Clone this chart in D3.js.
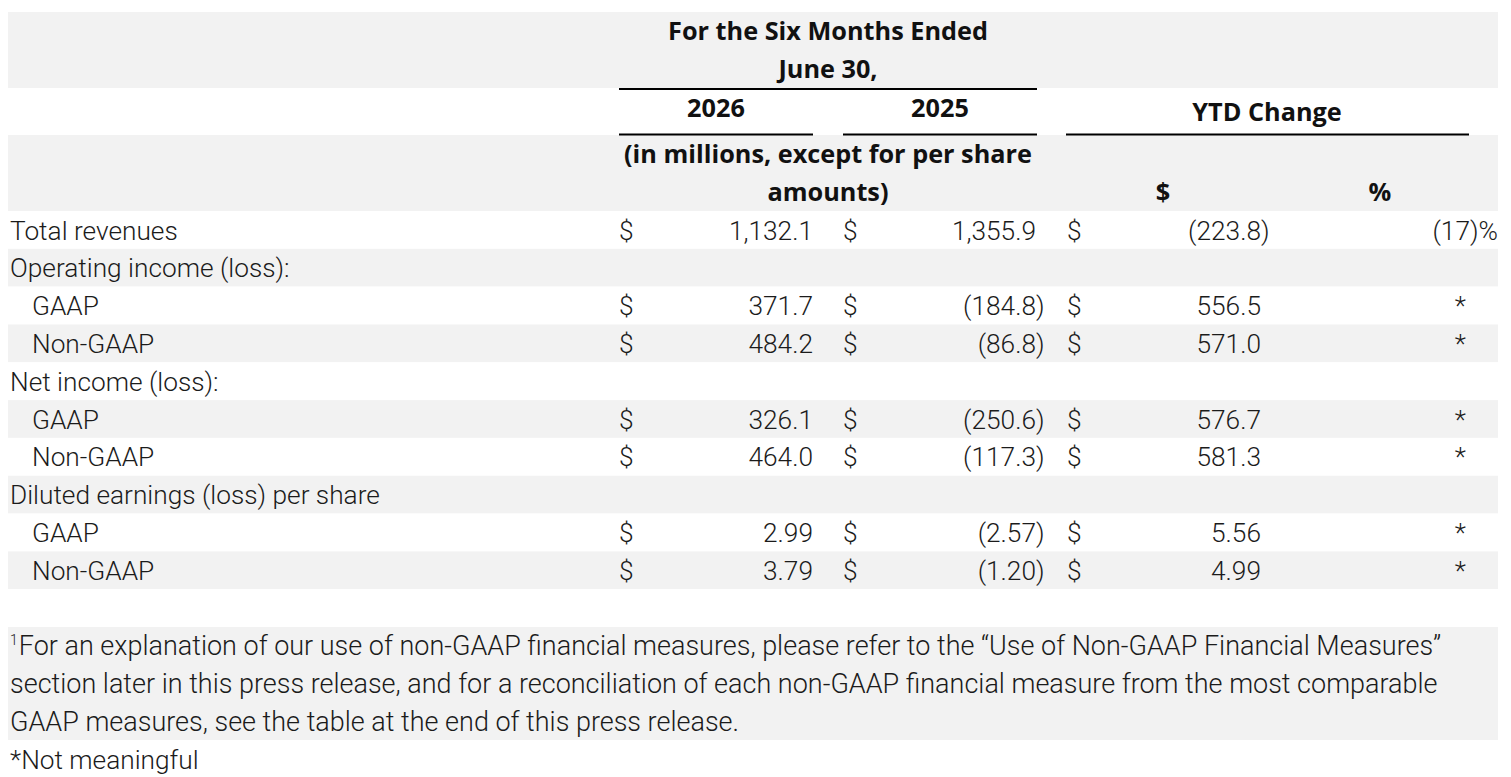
<!DOCTYPE html>
<html>
<head>
<meta charset="utf-8">
<script src="https://cdn.jsdelivr.net/npm/d3@7"></script>
<style>
  body { margin: 0; background: #fff; }
  svg { display: block; }
</style>
</head>
<body>
<svg id="chart"></svg>
<script>
var width = 1511, height = 777;

// table content
var rowLabels = ["Total revenues", "Operating income (loss):", "GAAP", "Non-GAAP",
  "Net income (loss):", "GAAP", "Non-GAAP", "Diluted earnings (loss) per share",
  "GAAP", "Non-GAAP", ""];
var rowIndent = [0, 0, 1, 1, 0, 1, 1, 0, 1, 1, 0];
var rowDecimals = [1, 1, 1, 1, 1, 1, 1, 2, 2, 2, 1];
var values2026 = [1132.1, null, 371.7, 484.2, null, 326.1, 464.0, null, 2.99, 3.79, null];
var values2025 = [1355.9, null, -184.8, -86.8, null, -250.6, -117.3, null, -2.57, -1.20, null];
var ytdDollar = [-223.8, null, 556.5, 571.0, null, 576.7, 581.3, null, 5.56, 4.99, null];
var ytdPercent = [-17, null, "*", "*", null, "*", "*", null, "*", "*", null];
var yearLabels = ["2026", "2025"];
var footnoteLines = [
  "For an explanation of our use of non-GAAP financial measures, please refer to the \u201cUse of Non-GAAP Financial Measures\u201d",
  "section later in this press release, and for a reconciliation of each non-GAAP financial measure from the most comparable",
  "GAAP measures, see the table at the end of this press release."
];

var bodyFont = "Roboto, 'Liberation Sans', sans-serif";
var headFont = "'Open Sans', Inter, sans-serif";
var ink = "#1b1b1b";
var grey = "#f2f2f2";

var svg = d3.select("#chart").attr("width", width).attr("height", height);

// pick a font size so a sample string fills the width seen in the picture
function fitSize(family, weight, sample, target) {
  var t = svg.append("text")
    .attr("font-family", family).attr("font-weight", weight)
    .attr("font-size", 20).text(sample);
  var w = t.node().getComputedTextLength();
  t.remove();
  return 20 * target / w;
}
var headSize = fitSize(headFont, 700, "For the Six Months Ended", 320);
var bodySize = fitSize(bodyFont, 300, "Diluted earnings (loss) per share", 370);
var footSize = fitSize(bodyFont, 300, footnoteLines[0], 1423);

// row positions
var y = d3.scaleLinear().domain([0, rowLabels.length]).range([211, 627]);

// background bands
var bands = [
  { y0: 12, y1: 88, fill: grey },
  { y0: 88, y1: 135, fill: "#fff" },
  { y0: 135, y1: 211, fill: grey }
];
rowLabels.forEach(function(d, i) {
  bands.push({ y0: y(i), y1: y(i + 1), fill: i % 2 ? grey : "#fff" });
});
bands.push({ y0: 627, y1: 740, fill: grey });

svg.append("g").selectAll("rect")
  .data(bands).enter()
  .append("rect")
  .attr("x", 8)
  .attr("y", function(d) { return d.y0; })
  .attr("width", 1490)
  .attr("height", function(d) { return d.y1 - d.y0; })
  .attr("fill", function(d) { return d.fill; });

// header
var head = svg.append("g")
  .attr("font-family", headFont)
  .attr("font-weight", 700)
  .attr("font-size", headSize)
  .attr("fill", "#111")
  .attr("text-anchor", "middle");

head.append("text").attr("x", 828).attr("y", 40).text("For the Six Months Ended");
head.append("text").attr("x", 828).attr("y", 78).text("June 30,");
head.selectAll(".year")
  .data(yearLabels).enter()
  .append("text")
  .attr("class", "year")
  .attr("x", function(d, i) { return [716, 940][i]; })
  .attr("y", 117)
  .text(function(d) { return d; });
head.append("text").attr("x", 1267).attr("y", 121).text("YTD Change");
head.append("text").attr("x", 828).attr("y", 163).text("(in millions, except for per share");
head.append("text").attr("x", 828).attr("y", 201).text("amounts)");
head.append("text").attr("x", 1163).attr("y", 201).text("$");
head.append("text").attr("x", 1380).attr("y", 201).text("%");

// header rules
var rules = [
  { x1: 619, x2: 1037, y: 89 },
  { x1: 619, x2: 813, y: 134.5 },
  { x1: 843, x2: 1037, y: 134.5 },
  { x1: 1066, x2: 1469, y: 134.5 }
];
svg.append("g").selectAll("line")
  .data(rules).enter()
  .append("line")
  .attr("x1", function(d) { return d.x1; })
  .attr("x2", function(d) { return d.x2; })
  .attr("y1", function(d) { return d.y; })
  .attr("y2", function(d) { return d.y; })
  .attr("stroke", "#000")
  .attr("stroke-width", 2);

// body rows
var body = svg.append("g")
  .attr("font-family", bodyFont)
  .attr("font-weight", 300)
  .attr("font-size", bodySize)
  .attr("fill", ink);

var rows = body.selectAll(".row")
  .data(rowLabels).enter()
  .append("g")
  .attr("class", "row")
  .attr("transform", function(d, i) { return "translate(0," + (y(i) + 28.5) + ")"; });

rows.append("text")
  .attr("x", function(d, i) { return rowIndent[i] ? 32 : 10; })
  .text(function(d) { return d; });

var cols = [
  { vals: values2026, dollarX: 619, right: 813 },
  { vals: values2025, dollarX: 843, right: 1036 },
  { vals: ytdDollar, dollarX: 1067, right: 1261 }
];

cols.forEach(function(col) {
  rows.each(function(d, i) {
    var v = col.vals[i];
    if (v === null) return;
    var g = d3.select(this);
    var s = d3.format(",." + rowDecimals[i] + "f")(Math.abs(v));
    g.append("text").attr("x", col.dollarX).text("$");
    g.append("text").attr("x", col.right).attr("text-anchor", "end")
      .text(v < 0 ? "(" + s : s);
    if (v < 0) g.append("text").attr("x", col.right).text(")");
  });
});

rows.each(function(d, i) {
  var v = ytdPercent[i];
  if (v === null) return;
  var g = d3.select(this);
  if (v === "*") {
    g.append("text").attr("x", 1466).attr("text-anchor", "end").text("*");
  } else {
    g.append("text").attr("x", 1470).attr("text-anchor", "end")
      .text(v < 0 ? "(" + Math.abs(v) : v);
    g.append("text").attr("x", 1470).text(v < 0 ? ")%" : "%");
  }
});

// footnotes
var foot = svg.append("g")
  .attr("font-family", bodyFont)
  .attr("font-weight", 300)
  .attr("font-size", footSize)
  .attr("fill", ink);

foot.selectAll(".fn")
  .data(footnoteLines).enter()
  .append("text")
  .attr("class", "fn")
  .attr("x", 10)
  .attr("y", function(d, i) { return 655 + i * 38; })
  .each(function(d, i) {
    var t = d3.select(this);
    if (i === 0) {
      t.append("tspan").attr("font-size", 14).attr("dy", -10).text("1");
      t.append("tspan").attr("dy", 10).attr("dx", 1).text(d);
    } else {
      t.text(d);
    }
  });

foot.append("text").attr("x", 10).attr("y", 769).attr("font-size", bodySize).text("*Not meaningful");
</script>
</body>
</html>
